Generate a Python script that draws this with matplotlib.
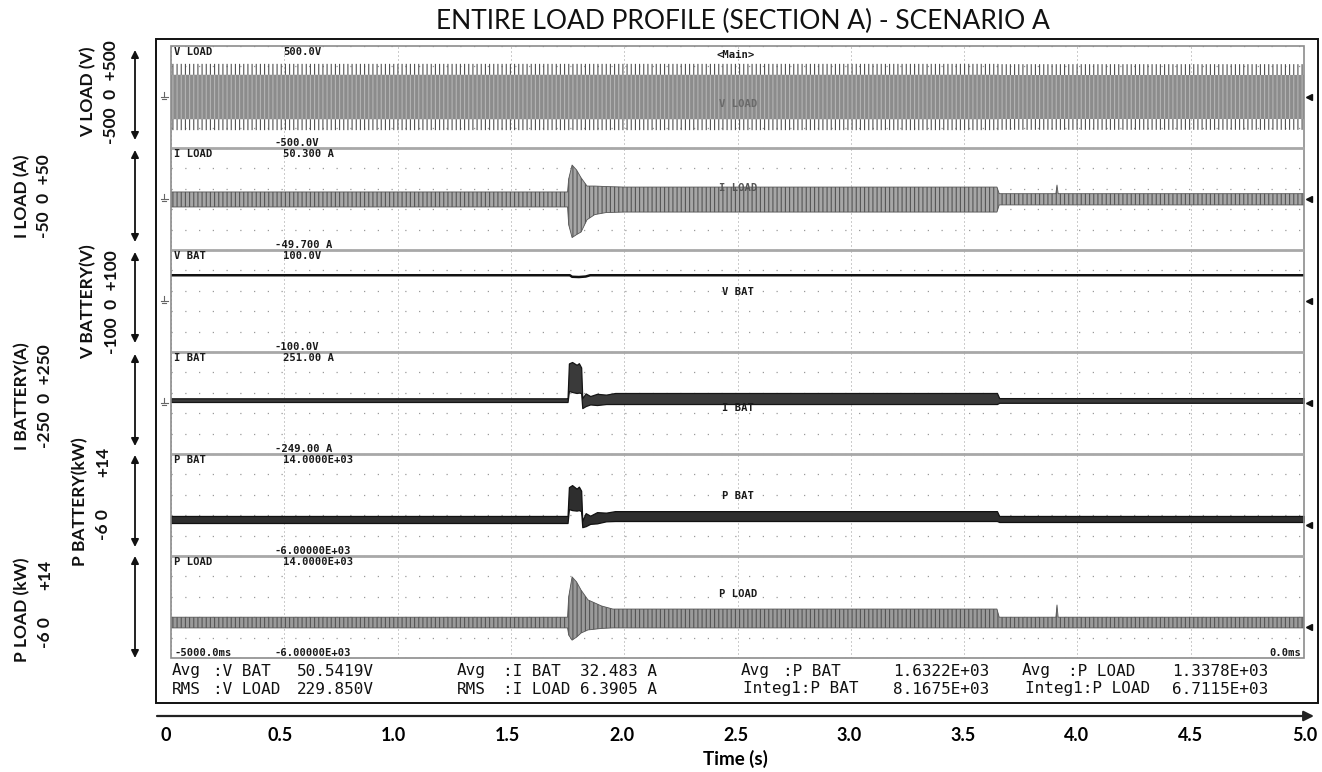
import matplotlib
matplotlib.use('Agg')
import matplotlib.pyplot as plt
import numpy as np
from matplotlib.patches import Rectangle

# ---------------- data ----------------
title = "ENTIRE LOAD PROFILE (SECTION A) - SCENARIO A"
time_ticks = [0.0, 0.5, 1.0, 1.5, 2.0, 2.5, 3.0, 3.5, 4.0, 4.5, 5.0]
time_tick_labels = ['0', '0.5', '1.0', '1.5', '2.0', '2.5', '3.0', '3.5', '4.0', '4.5', '5.0']

panel_names = ['V LOAD', 'I LOAD', 'V BAT', 'I BAT', 'P BAT', 'P LOAD']
panel_top_labels = ['500.0V', '50.300 A', '100.0V', '251.00 A', '14.0000E+03', '14.0000E+03']
panel_bottom_labels = ['-500.0V', '-49.700 A', '-100.0V', '-249.00 A', '-6.00000E+03', '-6.00000E+03']
panel_ylims = [(-500, 500), (-49.7, 50.3), (-100, 100), (-249, 251), (-6000, 14000), (-6000, 14000)]

left_titles = ['V LOAD (V)', 'I LOAD (A)', 'V BATTERY(V)', 'I BATTERY(A)', 'P BATTERY(kW)', 'P LOAD (kW)']
left_scales = ['-500  0  +500', '-50  0  +50', '-100  0  +100', '-250  0  +250', None, None]
left_scale_lo = '-6 0'
left_scale_hi = '+14'

# V LOAD envelope (V): peak envelope and dense band
vload_t = [0.0, 1.77, 1.78, 3.65, 3.66, 5.0]
vload_peak_hi = [325, 325, 325, 325, 322, 322]
vload_peak_lo = [-325, -325, -325, -325, -322, -322]
vload_band_hi = [218, 218, 218, 218, 216, 216]
vload_band_lo = [-218, -218, -218, -218, -216, -216]

# I LOAD envelope (A)
iload_t = [0.0, 1.75, 1.755, 1.77, 1.79, 1.81, 1.836, 1.87, 1.92, 2.0, 3.645, 3.655,
           3.905, 3.91, 3.915, 5.0]
iload_hi = [7.2, 7.2, 20, 33.6, 28.7, 21, 13, 13, 12.5, 12, 12, 5.5, 5.5, 14, 5.5, 5.5]
iload_lo = [-7.5, -7.5, -25, -37.5, -34.6, -32, -20, -15, -13, -12.5, -12.5, -5.5, -5.5, -5.5, -5.5, -5.5]

# V BAT (V)
vbat_t = [0.0, 1.76, 1.77, 1.80, 1.83, 1.85, 5.0]
vbat_v = [50.5, 50.5, 47.5, 47, 48, 50.5, 50.5]

# I BAT envelope (A)
ibat_t = [0.0, 1.75, 1.756, 1.77, 1.79, 1.80, 1.81, 1.815, 1.83, 1.85, 1.88, 1.92, 1.96, 3.645, 3.655, 5.0]
ibat_hi = [24, 24, 195, 202, 188, 196, 175, 25, 48, 35, 46, 42, 50, 50, 25, 25]
ibat_lo = [6, 6, 60, 55, 50, 52, 50, -24, -14, -6, -9, -4, -4, -4, 2, 2]

# P BAT envelope (W)
pbat_t = [0.0, 1.75, 1.756, 1.77, 1.79, 1.80, 1.81, 1.815, 1.83, 1.85, 1.88, 1.92, 1.96, 3.645, 3.655, 5.0]
pbat_hi = [1850, 1850, 7500, 7900, 7200, 7600, 6800, 900, 2400, 1900, 2600, 2500, 2800, 2800, 1850, 1850]
pbat_lo = [470, 470, 3200, 3000, 2900, 3000, 2800, -350, -150, 300, 400, 800, 860, 860, 670, 670]

# P LOAD envelope (W)
pload_t = [0.0, 1.75, 1.755, 1.77, 1.79, 1.81, 1.84, 1.90, 1.95, 3.645, 3.655,
           3.905, 3.91, 3.915, 5.0]
pload_hi = [2000, 2000, 6000, 9900, 8900, 7300, 5400, 4200, 3600, 3600, 2000, 2000, 4400, 2000, 2000]
pload_lo = [-100, -100, -1500, -2500, -1900, -1100, -500, -200, -100, -100, -100, -100, -100, -100, -100]

readout_row1 = ['Avg', ':V BAT', '50.5419V', 'Avg', ':I BAT', '32.483 A',
                'Avg', ':P BAT', '1.6322E+03', 'Avg', ':P LOAD', '1.3378E+03']
readout_row2 = ['RMS', ':V LOAD', '229.850V', 'RMS', ':I LOAD', '6.3905 A',
                'Integ1:P BAT', '8.1675E+03', 'Integ1:P LOAD', '6.7115E+03']

# ---------------- layout ----------------
W, H = 1322, 772
plt.rcParams['hatch.linewidth'] = 0.8
fig = plt.figure(figsize=(W / 100, H / 100), dpi=100)
fig.patch.set_facecolor('white')

PX0, PX1 = 171, 1304
PTOP, PH = 46, 102

def fy(y):
    return 1 - y / H

mono = 'DejaVu Sans Mono'
lato = 'Lato'

axes = []
for i in range(6):
    top = PTOP + PH * i
    ax = fig.add_axes([PX0 / W, fy(top + PH), (PX1 - PX0) / W, PH / H])
    ax.set_xlim(0, 5)
    lo, hi = panel_ylims[i]
    ax.set_ylim(lo, hi)
    ax.set_xticks(np.linspace(0, 5, 11))
    ax.set_yticks(np.linspace(lo, hi, 6))
    ax.tick_params(length=0, labelbottom=False, labelleft=False)
    ax.xaxis.grid(True, linestyle=(0, (1, 3)), linewidth=0.72, color='#9a9a9a')
    ax.yaxis.grid(True, linestyle=(0, (1, 10)), linewidth=0.9, color='#9a9a9a')
    ax.set_axisbelow(True)
    for s in ax.spines.values():
        s.set_visible(False)
    axes.append(ax)

# V LOAD
a = axes[0]
a.fill_between(vload_t, vload_peak_lo, vload_peak_hi, facecolor='none', edgecolor='#505050',
               hatch='||||', linewidth=0)
a.fill_between(vload_t, vload_band_lo, vload_band_hi, facecolor='#8c8c8c', edgecolor='#b4b4b4',
               hatch='||||', linewidth=0)
# I LOAD
a = axes[1]
a.fill_between(iload_t, iload_lo, iload_hi, facecolor='#a6a6a6', edgecolor='#555555',
               hatch='||||', linewidth=0.6)
# V BAT
axes[2].plot(vbat_t, vbat_v, color='#111111', linewidth=1.8)
# I BAT
axes[3].fill_between(ibat_t, ibat_lo, ibat_hi, facecolor='#3a3a3a', edgecolor='#151515', linewidth=0.9)
# P BAT
axes[4].fill_between(pbat_t, pbat_lo, pbat_hi, facecolor='#2e2e2e', edgecolor='#111111', linewidth=0.9)
# P LOAD
axes[5].fill_between(pload_t, pload_lo, pload_hi, facecolor='#9a9a9a', edgecolor='#555555',
                     hatch='||||', linewidth=0.6)

# ---------------- overlay (frames, texts) ----------------
ov = fig.add_axes([0, 0, 1, 1])
ov.set_xlim(0, W)
ov.set_ylim(H, 0)
ov.axis('off')

ov.add_patch(Rectangle((156, 39), 1162, 664, fill=False, lw=1.4, ec='#111111'))
ov.add_patch(Rectangle((PX0, PTOP), PX1 - PX0, PH * 6, fill=False, lw=1.2, ec='#8c8c8c'))
for i in range(1, 6):
    y = PTOP + PH * i
    ov.plot([PX0, PX1], [y, y], color='#a8a8a8', lw=2.0, solid_capstyle='butt')

kw_small = dict(family=mono, fontsize=7.6, fontweight='bold', color='#1a1a1a')
for i in range(6):
    top = PTOP + PH * i
    ov.text(174, top + 6, panel_names[i], ha='left', va='center', **kw_small)
    ov.text(283, top + 6, panel_top_labels[i], ha='left', va='center', **kw_small)
    ov.text(275, top + PH - 5, panel_bottom_labels[i], ha='left', va='center', **kw_small)
    lo, hi = panel_ylims[i]
    yz = top + hi / (hi - lo) * PH
    # right zero markers
    ov.plot([1309], [yz], marker='<', markersize=4.5, color='#111111', clip_on=False)
    if i < 4:
        ov.plot([164, 164], [yz - 5, yz], color='#666666', lw=0.8)
        ov.plot([160.5, 167.5], [yz, yz], color='#666666', lw=0.8)
        ov.plot([162, 166], [yz + 2, yz + 2], color='#666666', lw=0.8)

ov.text(174, 653, '-5000.0ms', ha='left', va='center', **kw_small)
ov.text(1301, 653, '0.0ms', ha='right', va='center', **kw_small)
ov.text(736, 55, '<Main>', ha='center', va='center', **kw_small)

center_label_y = [104, 188, 292, 408, 496, 594]
center_label_col = ['#6a6a6a', '#555555', '#1a1a1a', '#1a1a1a', '#1a1a1a', '#1a1a1a']
for i in range(6):
    ov.text(738, center_label_y[i], panel_names[i], ha='center', va='center',
            family=mono, fontsize=7.6, fontweight='bold', color=center_label_col[i])

# readouts
row1_x = [172, 213, 297, 457, 503, 580, 741, 783, 893, 1022, 1068, 1172]
row2_x = [172, 213, 297, 457, 503, 580, 743, 893, 1025, 1172]
kw_ro = dict(family=mono, fontsize=11.5, color='#111111', ha='left', va='center')
for s, x in zip(readout_row1, row1_x):
    ov.text(x, 671, s, **kw_ro)
for s, x in zip(readout_row2, row2_x):
    ov.text(x, 689, s, **kw_ro)

# title
ov.text(743, 21, title, ha='center', va='center', family=lato, fontsize=19, color='#111111')

# left labels & arrows
title_x = [88, 22, 88, 22, 80, 22]
scale_x = [111, 44, 112, 45, 103, 45]
label_cy = [92, 196, 302, 396, 502, 610]
for i in range(6):
    ov.text(title_x[i], label_cy[i], left_titles[i], rotation=90, ha='center', va='center',
            family=lato, fontsize=12.5, fontweight='bold', color='#111111')
    if left_scales[i] is not None:
        ov.text(scale_x[i], label_cy[i], left_scales[i], rotation=90, ha='center', va='center',
                family=lato, fontsize=12.5, fontweight='bold', color='#111111')
hi_y = {4: 462, 5: 575}
lo_y = {4: 525, 5: 633}
for i in (4, 5):
    ov.text(scale_x[i], hi_y[i], left_scale_hi, rotation=90, ha='center', va='center',
            family=lato, fontsize=12.5, fontweight='bold', color='#111111')
    ov.text(scale_x[i], lo_y[i], left_scale_lo, rotation=90, ha='center', va='center',
            family=lato, fontsize=12.5, fontweight='bold', color='#111111')

arrow_spans = [(50, 140), (150, 242), (252, 343), (354, 446), (455, 547), (556, 658)]
for y0, y1 in arrow_spans:
    ov.annotate('', xy=(135, y0), xytext=(135, y1),
                arrowprops=dict(arrowstyle='<|-|>', color='#111111', lw=1.3,
                                mutation_scale=11, shrinkA=0, shrinkB=0))

# time axis arrow
ov.annotate('', xy=(1314, 716), xytext=(157, 716),
            arrowprops=dict(arrowstyle='-|>', color='#222222', lw=1.6,
                            mutation_scale=15, shrinkA=0, shrinkB=0))

# time axis tick labels
T0, TS = 166.2, 227.7
tax = fig.add_axes([157 / W, fy(716), (1313 - 157) / W, 0.0005])
tax.set_xlim((157 - T0) / TS, (1313 - T0) / TS)
tax.set_ylim(0, 1)
tax.set_xticks(time_ticks)
tax.set_xticklabels(time_tick_labels, family=lato, fontsize=13, fontweight='bold')
tax.set_yticks([])
tax.tick_params(axis='x', length=0, pad=8)
for s in tax.spines.values():
    s.set_visible(False)
tax.patch.set_alpha(0)
tax.set_xlabel('Time (s)', family=lato, fontsize=13.5, fontweight='bold', labelpad=4)

fig.savefig('out.png', dpi=100)
